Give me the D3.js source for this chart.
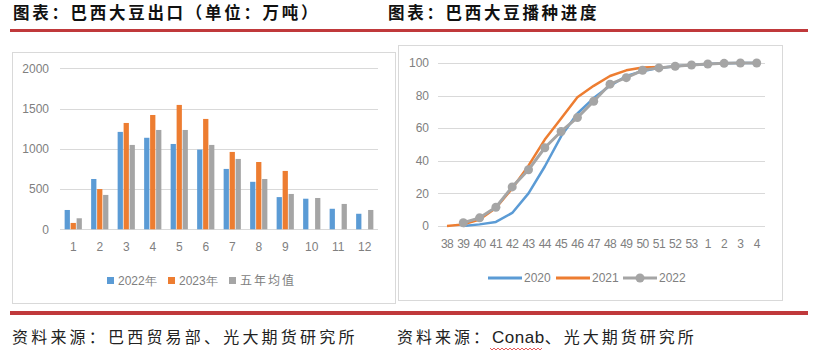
<!DOCTYPE html>
<html>
<head>
<meta charset="utf-8">
<script src="https://cdn.jsdelivr.net/npm/d3@7"></script>
<style>
  body { margin: 0; background: #fff; }
  svg { display: block; }
</style>
</head>
<body>
<div id="chart"></div>
<script>
// Left chart: Brazil soybean exports (10k tonnes)
const months = ["1","2","3","4","5","6","7","8","9","10","11","12"]
const exports2022 = [240, 625, 1210, 1137, 1060, 990, 750, 590, 400, 380, 255, 193]
const exports2023 = [79, 500, 1321, 1420, 1545, 1371, 961, 836, 725, null, null, null]
const exportsAvg = [137, 427, 1048, 1234, 1234, 1048, 874, 625, 439, 389, 315, 240]
const exportSeries = ["2022年", "2023年", "五年均值"]
const exportTicks = [0, 500, 1000, 1500, 2000]

// Right chart: planting progress (%)
const weeks = ["38","39","40","41","42","43","44","45","46","47","48","49","50","51","52","53","1","2","3","4"]
const plant2020 = [null, 0, 1, 2.5, 8, 20, 36.5, 55, 69, 78.5, 86, 92, 95, 97, 98, 98.8, 99.4, 99.8, 100, 100]
const plant2021 = [0, 1, 4, 11, 23, 37, 53, 66, 79, 86, 92, 95.5, 97.3, 97.5, null, null, null, null, null, null]
const plant2022 = [null, 2, 5, 11.5, 24, 34.5, 48, 58, 66.5, 76.5, 87, 91, 95.5, 97, 98, 98.8, 99.4, 99.8, 100, 100]
const plantSeries = ["2020", "2021", "2022"]
const plantTicks = [0, 20, 40, 60, 80, 100]

const colors = ["#5b9bd5", "#ed7d31", "#a5a5a5"]
const red = "#c0393b"
const axisFont = "'Liberation Sans', Arial, sans-serif"
const cjkFont = "'Noto Sans CJK SC', sans-serif"

const W = 823, H = 359
const svg = d3.select("#chart").append("svg").attr("width", W).attr("height", H)

// Titles and rules
svg.selectAll("text.title").data([
      {x: 13, t: "图表：巴西大豆出口（单位：万吨）"},
      {x: 388, t: "图表：巴西大豆播种进度"}])
   .enter().append("text")
      .attr("class", "title")
      .attr("x", d => d.x)
      .attr("y", 19)
      .attr("font-family", cjkFont)
      .attr("font-weight", "bold")
      .attr("font-size", 16.5)
      .attr("letter-spacing", 2.7)
      .attr("fill", "#111")
      .text(d => d.t)

svg.append("rect").attr("x", 10).attr("y", 29).attr("width", 798).attr("height", 3).attr("fill", red)
svg.append("rect").attr("x", 10).attr("y", 311).attr("width", 798).attr("height", 4).attr("fill", red)

// Chart frames
svg.append("rect").attr("x", 12.5).attr("y", 52.5).attr("width", 383).attr("height", 251)
   .attr("fill", "#fff").attr("stroke", "#d9d9d9")
svg.append("rect").attr("x", 398.5).attr("y", 45.5).attr("width", 384).attr("height", 255)
   .attr("fill", "#fff").attr("stroke", "#d9d9d9")

// Sources
const src1 = svg.append("text").attr("x", 12).attr("y", 343)
   .attr("font-family", cjkFont).attr("font-size", 16).attr("letter-spacing", 3.2).attr("fill", "#222")
   .text("资料来源：巴西贸易部、光大期货研究所")
const src2 = svg.append("text").attr("x", 397).attr("y", 343)
   .attr("font-family", cjkFont).attr("font-size", 16).attr("letter-spacing", 3).attr("fill", "#222")
src2.append("tspan").text("资料来源：")
src2.append("tspan").attr("letter-spacing", 0.5).attr("font-family", axisFont).attr("font-size", 17).text("Conab")
src2.append("tspan").text("、光大期货研究所")

// spell-check squiggle under "Conab"
let squiggle = d3.path()
squiggle.moveTo(490, 348)
for(let i = 0; i < 26; i++) {
   squiggle.lineTo(492 + i * 2, i % 2 ? 348 : 350)
}
svg.append("path").attr("d", squiggle.toString()).attr("fill", "none").attr("stroke", "#d33").attr("stroke-width", 0.8)

// ---------- Left: grouped bars ----------
const x1 = d3.scaleBand().domain(months).range([60, 378]).paddingInner(0.35).paddingOuter(0.175)
const xs = d3.scaleBand().domain(exportSeries).range([0, x1.bandwidth()]).paddingInner(0.12)
const y1 = d3.scaleLinear().domain([0, 2000]).range([229.3, 68.3])

const g1 = svg.append("g")

g1.selectAll("line.grid").data(exportTicks).enter().append("line")
   .attr("x1", 60).attr("x2", 378)
   .attr("y1", d => Math.round(y1(d)) + 0.5).attr("y2", d => Math.round(y1(d)) + 0.5)
   .attr("stroke", "#d9d9d9")

g1.selectAll("text.ytick").data(exportTicks).enter().append("text")
   .attr("x", 49).attr("y", d => y1(d)).attr("dy", "0.35em")
   .attr("text-anchor", "end").attr("font-family", axisFont).attr("font-size", 12)
   .attr("fill", "#808080").text(d => d)

g1.selectAll("text.xtick").data(months).enter().append("text")
   .attr("x", d => x1(d) + x1.bandwidth() / 2).attr("y", 247).attr("dy", "0.35em")
   .attr("text-anchor", "middle").attr("font-family", axisFont).attr("font-size", 12)
   .attr("fill", "#808080").text(d => d)

const exportData = [exports2022, exports2023, exportsAvg]
exportSeries.forEach(function(s, si) {
   g1.selectAll("rect.s" + si).data(exportData[si].map((v, i) => ({m: months[i], v: v})).filter(d => d.v != null))
      .enter().append("rect")
         .attr("x", d => x1(d.m) + xs(s))
         .attr("width", xs.bandwidth())
         .attr("y", d => y1(d.v))
         .attr("height", d => y1(0) - y1(d.v))
         .attr("fill", colors[si])
})

// legend
const leg1 = [{x: 107, t: exportSeries[0]}, {x: 168, t: exportSeries[1]}, {x: 229, t: exportSeries[2]}]
leg1.forEach(function(d, i) {
   g1.append("rect").attr("x", d.x).attr("y", 277).attr("width", 7).attr("height", 7).attr("fill", colors[i])
   g1.append("text").attr("x", d.x + 11).attr("y", 281).attr("dy", "0.35em")
      .attr("font-family", i == 2 ? cjkFont : axisFont).attr("font-size", 12).attr("fill", "#808080")
      .attr("letter-spacing", i == 2 ? 2 : 0)
      .text(d.t)
})

// ---------- Right: planting progress lines ----------
const x2 = d3.scalePoint().domain(weeks).range([447, 756.7])
const y2 = d3.scaleLinear().domain([0, 100]).range([226, 63])

const g2 = svg.append("g")

g2.selectAll("line.grid").data(plantTicks).enter().append("line")
   .attr("x1", 438).attr("x2", 765)
   .attr("y1", d => Math.round(y2(d)) + 0.5).attr("y2", d => Math.round(y2(d)) + 0.5)
   .attr("stroke", "#d9d9d9")

g2.selectAll("text.ytick").data(plantTicks).enter().append("text")
   .attr("x", 429).attr("y", d => y2(d)).attr("dy", "0.35em")
   .attr("text-anchor", "end").attr("font-family", axisFont).attr("font-size", 12)
   .attr("fill", "#808080").text(d => d)

g2.selectAll("text.xtick").data(weeks).enter().append("text")
   .attr("x", d => x2(d)).attr("y", 244).attr("dy", "0.35em")
   .attr("text-anchor", "middle").attr("font-family", axisFont).attr("font-size", 12)
   .attr("letter-spacing", -0.6)
   .attr("fill", "#808080").text(d => d)

const line = d3.line()
   .defined(d => d.v != null)
   .x(d => x2(d.w))
   .y(d => y2(d.v))

const plantData = [plant2020, plant2021, plant2022].map(arr => arr.map((v, i) => ({w: weeks[i], v: v})))
plantData.forEach(function(pts, si) {
   g2.append("path").datum(pts)
      .attr("d", line)
      .attr("fill", "none")
      .attr("stroke", colors[si])
      .attr("stroke-width", si == 2 ? 3 : 2.5)
      .attr("stroke-linejoin", "round")
})
g2.selectAll("circle.marker").data(plantData[2].filter(d => d.v != null)).enter().append("circle")
   .attr("cx", d => x2(d.w)).attr("cy", d => y2(d.v)).attr("r", 4.5)
   .attr("fill", colors[2])

// legend
const leg2 = [{x: 488, t: plantSeries[0]}, {x: 556, t: plantSeries[1]}, {x: 623, t: plantSeries[2]}]
leg2.forEach(function(d, i) {
   g2.append("line").attr("x1", d.x).attr("x2", d.x + 34).attr("y1", 278).attr("y2", 278)
      .attr("stroke", colors[i]).attr("stroke-width", 3)
   if(i == 2) {
      g2.append("circle").attr("cx", d.x + 17).attr("cy", 278).attr("r", 4.5).attr("fill", colors[i])
   }
   g2.append("text").attr("x", d.x + 36).attr("y", 278).attr("dy", "0.35em")
      .attr("font-family", axisFont).attr("font-size", 12).attr("fill", "#808080")
      .text(d.t)
})
</script>
</body>
</html>
